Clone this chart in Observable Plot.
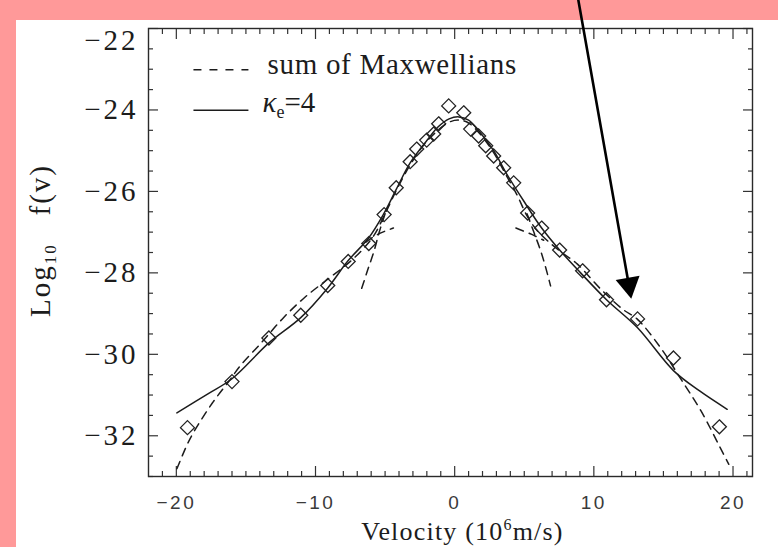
<!DOCTYPE html>
<html><head><meta charset="utf-8">
<script src="https://cdn.jsdelivr.net/npm/d3@7"></script>
<script src="https://cdn.jsdelivr.net/npm/@observablehq/plot@0.6"></script>
<style>
html,body{margin:0;padding:0;background:#ff9999;}
#wrap{position:relative;width:778px;height:547px;overflow:hidden;background:#ff9999;}
#panel{position:absolute;left:16px;top:20px;width:762px;height:527px;background:#fff;}
#chart{position:absolute;left:0;top:0;}
</style></head><body>
<div id="wrap"><div id="panel"></div><div id="chart"></div></div>
<script>
// measured data (diamonds)
const obsV = [-19.2,-16.0,-13.35,-11.06,-9.12,-7.65,-6.17,-5.07,-4.2,-3.2,-2.73,-2.01,-1.51,-1.15,-0.43,0.65,1.15,1.72,2.23,2.8,3.52,4.24,5.24,6.25,7.54,9.19,10.91,13.14,15.72,19.02];
const obsF = [-31.80,-30.67,-29.60,-29.04,-28.31,-27.72,-27.28,-26.57,-25.91,-25.27,-24.96,-24.74,-24.59,-24.34,-23.90,-24.07,-24.47,-24.64,-24.88,-25.13,-25.42,-25.79,-26.53,-26.90,-27.44,-27.95,-28.66,-29.13,-30.09,-31.78];
// kappa = 4 fit (solid)
const kapV = [-19.96,-17.73,-16.0,-13.35,-11.06,-9.12,-7.68,-6.2,-5.1,-4.2,-3.2,-2.0,-1.2,-0.4,0.3,1.0,1.7,2.8,3.7,4.95,6.25,7.54,9.05,10.91,13.14,15.72,17.6,19.58];
const kapF = [-31.44,-30.97,-30.60,-29.72,-29.10,-28.37,-27.71,-27.15,-26.55,-25.95,-25.30,-24.75,-24.42,-24.22,-24.17,-24.25,-24.50,-25.00,-25.55,-26.23,-26.90,-27.44,-28.00,-28.66,-29.35,-30.40,-30.90,-31.35];
// sum of Maxwellians (dashed)
const sumV = [-19.96,-19.2,-18.7,-17.4,-16.2,-15.4,-13.9,-12.3,-10.8,-9.1,-7.6,-6.6,-5.8,-5.0,-4.2,-3.2,-2.2,-1.2,-0.4,0.3,1.0,1.8,2.8,3.7,4.5,5.2,5.9,6.8,7.7,8.8,10.5,12.1,13.1,14.8,16.2,17.7,19.3,19.7];
const sumF = [-32.81,-32.2,-31.88,-31.19,-30.65,-30.28,-29.72,-29.10,-28.61,-28.15,-27.75,-27.42,-27.08,-26.55,-25.98,-25.35,-24.85,-24.50,-24.30,-24.25,-24.32,-24.58,-25.05,-25.60,-26.10,-26.60,-26.95,-27.25,-27.50,-27.78,-28.40,-28.90,-29.13,-29.84,-30.58,-31.39,-32.44,-32.70];
// individual components (dashed branches)
const coreLV = [-5.0,-5.43,-5.79,-6.27,-6.70];
const coreLF = [-26.55,-27.01,-27.46,-27.95,-28.40];
const coreRV = [5.2,5.70,6.18,6.54,6.89];
const coreRF = [-26.55,-27.01,-27.46,-27.87,-28.32];
const haloLV = [-6.4,-5.5,-4.4];
const haloLF = [-27.25,-27.05,-26.90];
const haloRV = [4.4,5.5,6.4];
const haloRF = [-26.90,-27.05,-27.20];
// ticks
const xMajor = [-20,-10,0,10,20];
const xMinor = d3.range(-21,22,1).filter(v => v % 10 !== 0);
const yMajor = [-32,-30,-28,-26,-24,-22];
const yMinor = d3.range(-33,-22,0.5).filter(v => v % 2 !== 0);
// texts
const xLabel = "Velocity (106m/s)";
const yLabel = "Log10   f(v)";
const legendLabels = ["sum of Maxwellians", "κe=4"];
// annotation arrow (data coordinates)
const arrowFrom = {v: 8.89, f: -21.31};
const arrowTo = {v: 12.65, f: -28.56};
// legend placement (data coordinates)
const legendV1 = -18.77, legendV2 = -14.82, legendTextV = [-13.45, -13.81];
const legendLineF = [-23.01, -24.01], legendTextF = [-22.88, -23.83];

const pts = (V, F) => V.map((v, i) => ({v, f: F[i]}));
const ink = "#1c1c1c";
const dash = "8,6";
const lineOpts = {x: "v", y: "f", stroke: ink, strokeWidth: 1.5, curve: "catmull-rom"};
const serif = "Liberation Serif, serif";

const tickAxes = [];
for (const [anchor, data, size] of [["bottom", xMajor, -10], ["bottom", xMinor, -5], ["top", xMajor, -10], ["top", xMinor, -5]]) {
  tickAxes.push(Plot.axisX(data, {anchor, tickSize: size, tickFormat: () => "", label: null, stroke: "#333", strokeWidth: 1.2}));
}
for (const [anchor, data, size] of [["left", yMajor, -10], ["left", yMinor, -5], ["right", yMajor, -10], ["right", yMinor, -5]]) {
  tickAxes.push(Plot.axisY(data, {anchor, tickSize: size, tickFormat: () => "", label: null, stroke: "#333", strokeWidth: 1.2}));
}

const plot = Plot.plot({
  width: 778, height: 547,
  marginTop: 28, marginBottom: 71, marginLeft: 148, marginRight: 26,
  style: {background: "transparent", overflow: "visible"},
  x: {domain: [-22, 21.4]},
  y: {domain: [-33, -22]},
  marks: [
    ...tickAxes,
    Plot.axisX(xMajor, {anchor: "bottom", tickSize: 0, tickPadding: 19, fontSize: 19, fontFamily: "Liberation Sans, Arial, sans-serif", fill: "#3a3a3a", label: null}),
    Plot.axisY(yMajor, {anchor: "left", tickSize: 0, tickPadding: 10, fontSize: 29, fontFamily: serif, fill: ink, label: null}),
    Plot.frame({stroke: "#2a2a2a", strokeWidth: 1.4}),
    Plot.line(pts(sumV, sumF), {...lineOpts, strokeDasharray: dash}),
    Plot.line(pts(coreLV, coreLF), {...lineOpts, strokeDasharray: dash}),
    Plot.line(pts(coreRV, coreRF), {...lineOpts, strokeDasharray: dash}),
    Plot.line(pts(haloLV, haloLF), {...lineOpts, strokeDasharray: dash}),
    Plot.line(pts(haloRV, haloRF), {...lineOpts, strokeDasharray: dash}),
    Plot.line(pts(kapV, kapF), lineOpts),
    Plot.dot(pts(obsV, obsF), {x: "v", y: "f", symbol: "diamond2", r: 6.3, stroke: "#222", strokeWidth: 1.3, fill: "none"}),
    // legend
    Plot.link([0], {x1: () => legendV1, x2: () => legendV2, y1: () => legendLineF[0], y2: () => legendLineF[0], stroke: ink, strokeWidth: 1.5, strokeDasharray: "8,8"}),
    Plot.link([1], {x1: () => legendV1, x2: () => legendV2, y1: () => legendLineF[1], y2: () => legendLineF[1], stroke: ink, strokeWidth: 1.5}),
    Plot.text([0, 1], {x: i => legendTextV[i], y: i => legendTextF[i], text: i => legendLabels[i], textAnchor: "start", lineAnchor: "middle", fontSize: 29, fontFamily: serif, fill: ink}),
    // axis labels
    Plot.text([xLabel], {frameAnchor: "bottom", textAnchor: "middle", lineAnchor: "middle", dx: 12, dy: 55, fontSize: 26, fontFamily: serif, fill: ink}),
    Plot.text([yLabel], {frameAnchor: "left", textAnchor: "middle", lineAnchor: "middle", dx: -108, dy: -12, rotate: -90, fontSize: 29, fontFamily: serif, fill: ink}),
    // arrow annotation
    Plot.arrow([0], {x1: () => arrowFrom.v, y1: () => arrowFrom.f, x2: () => arrowTo.v, y2: () => arrowTo.f, headLength: 0, insetEnd: 10, stroke: "#000", strokeWidth: 2.6}),
    Plot.dot([arrowTo], {x: "v", y: "f", symbol: "triangle", r: 9, fill: "#000", stroke: "none", rotate: 170, dx: -1.9, dy: -10.8})
  ]
});

// rich text (sub/superscripts)
function rich(plain, parts, spacing) {
  d3.select(plot).selectAll("text").filter(function () { return this.textContent === plain; }).each(function () {
    const t = d3.select(this).style("white-space", "pre");
    if (spacing) t.style("letter-spacing", spacing);
    t.text(null);
    for (const p of parts) {
      const s = t.append("tspan").text(p.t);
      if (p.dy) s.attr("dy", p.dy);
      if (p.size) s.attr("font-size", p.size);
      if (p.italic) s.attr("font-style", "italic");
    }
  });
}
rich(xLabel, [{t: "Velocity (10"}, {t: "6", size: 16, dy: -10}, {t: "m/s)", dy: 10}], "1.2px");
rich(yLabel, [{t: "Log"}, {t: "10", size: 17, dy: 6}, {t: "   f(v)", dy: -6}], "2px");
rich(legendLabels[1], [{t: "κ", italic: true}, {t: "e", size: 18, dy: 6}, {t: "=4", dy: -6}]);
d3.select(plot).selectAll("text").filter(function () { return this.textContent === legendLabels[0]; }).style("letter-spacing", "0.7px");
d3.select(plot).selectAll('[aria-label="x-axis tick label"] text').style("letter-spacing", "2.5px");
d3.select(plot).selectAll('[aria-label="y-axis tick label"] text').style("letter-spacing", "3px")
  .filter(function () { return this.textContent === "−22"; })
  .attr("transform", function () { return (this.getAttribute("transform") || "") + " translate(0,12)"; });

document.getElementById("chart").appendChild(plot);
</script>
</body></html>
